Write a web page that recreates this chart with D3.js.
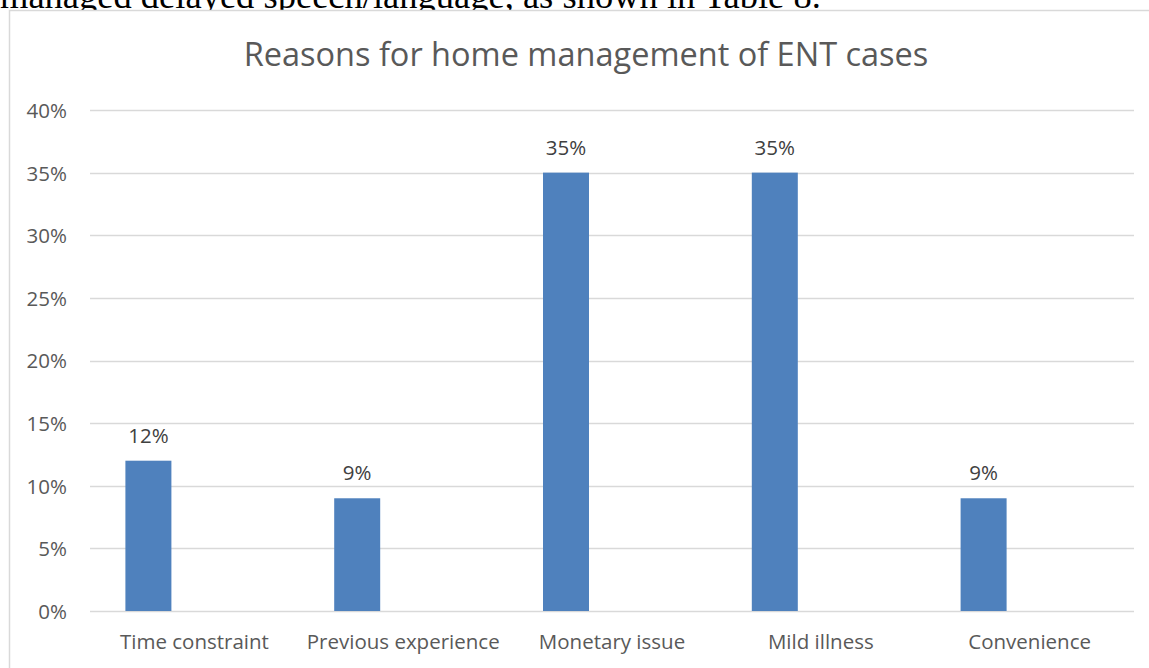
<!DOCTYPE html>
<html>
<head>
<meta charset="utf-8">
<script src="https://cdnjs.cloudflare.com/ajax/libs/d3/7.8.5/d3.min.js"></script>
<style>
  html, body { margin: 0; padding: 0; background: #fff; }
  svg { display: block; }
</style>
</head>
<body>
<script>
// Data
const categories = ["Time constraint", "Previous experience", "Monetary issue", "Mild illness", "Convenience"];
const values = [12, 9, 35, 35, 9];
const yTicks = [0, 5, 10, 15, 20, 25, 30, 35, 40];
const title = "Reasons for home management of ENT cases";
const bodyText = "managed delayed speech/language, as shown in Table 8.";

const W = 1149, H = 668;
const svg = d3.select("body").append("svg").attr("width", W).attr("height", H);

// Surrounding document line, running above the chart frame
svg.append("text")
  .attr("x", 0).attr("y", 8)
  .attr("font-family", "'Liberation Serif', 'DejaVu Serif', serif")
  .attr("font-size", 36.5)
  .attr("fill", "#000")
  .text(bodyText);

// Chart frame
svg.append("rect")
  .attr("x", 9.5).attr("y", 10.5)
  .attr("width", W + 20).attr("height", H + 20)
  .attr("fill", "#fff").attr("stroke", "#d9d9d9").attr("stroke-width", 1.5);

const plot = { left: 90, right: 1134, top: 110, bottom: 611 };

const x = d3.scaleBand().domain(categories).range([plot.left, plot.right]);
const y = d3.scaleLinear().domain([0, 40]).range([plot.bottom, plot.top]);

// Three-slot cluster per category; the series occupies the first slot
const barW = 46;
const slotOffset = -barW * 1.5;

const font = "'Open Sans', 'Noto Sans', sans-serif";
const textCol = "#595959";
const labelSize = 20.5;

// Title
svg.append("text")
  .attr("x", 586).attr("y", 66)
  .attr("text-anchor", "middle")
  .attr("font-family", font).attr("font-size", 32.5)
  .attr("fill", textCol)
  .text(title);

// Gridlines
svg.append("g").selectAll("line").data(yTicks).join("line")
  .attr("x1", plot.left).attr("x2", plot.right)
  .attr("y1", d => Math.round(y(d)) + 0.5).attr("y2", d => Math.round(y(d)) + 0.5)
  .attr("stroke", "#d9d9d9").attr("stroke-width", 1.5);

// Y axis labels
const yAxis = d3.axisLeft(y).tickValues(yTicks).tickSize(0).tickPadding(0)
  .tickFormat(d => d + "%");
const gy = svg.append("g").attr("transform", `translate(${plot.left - 23},0)`).call(yAxis);
gy.select(".domain").remove();
gy.selectAll("text")
  .attr("font-family", font).attr("font-size", labelSize).attr("fill", textCol)
  .attr("dy", "0.36em");

// X axis labels
const xAxis = d3.axisBottom(x).tickSize(0).tickPadding(0);
const gx = svg.append("g").attr("transform", `translate(0,${plot.bottom + 38})`).call(xAxis);
gx.select(".domain").remove();
gx.selectAll("text")
  .attr("font-family", font).attr("font-size", labelSize).attr("fill", textCol)
  .attr("y", 0).attr("dy", 0);

// Bars
svg.append("g").selectAll("rect").data(categories).join("rect")
  .attr("x", (d) => x(d) + x.bandwidth() / 2 + slotOffset)
  .attr("y", (d, i) => y(values[i]))
  .attr("width", barW)
  .attr("height", (d, i) => y(0) - y(values[i]))
  .attr("fill", "#4f81bd");

// Value labels
svg.append("g").selectAll("text").data(categories).join("text")
  .attr("x", (d) => x(d) + x.bandwidth() / 2 + slotOffset + barW / 2)
  .attr("y", (d, i) => y(values[i]) - 18)
  .attr("text-anchor", "middle")
  .attr("font-family", font).attr("font-size", labelSize).attr("fill", "#404040")
  .text((d, i) => values[i] + "%");
</script>
</body>
</html>
